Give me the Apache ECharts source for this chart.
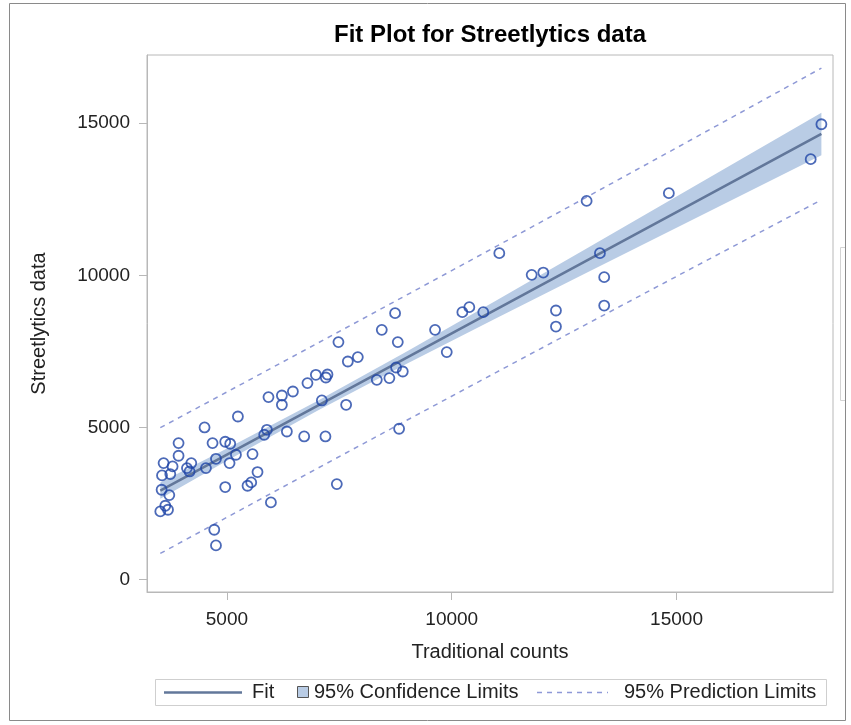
<!DOCTYPE html>
<html>
<head>
<meta charset="utf-8">
<script src="https://cdn.jsdelivr.net/npm/echarts@6/dist/echarts.min.js"></script>
<style>html,body{margin:0;padding:0;background:#fff;}#chart{width:851px;height:725px;}</style>
</head>
<body>
<div id="chart"></div>
<script>
// ---- data ----
const xTicks = [5000, 10000, 15000];
const yTicks = [0, 5000, 10000, 15000];

const tradCounts = [5924, 6222, 6467, 6791, 6222, 7111, 5244, 4502, 5889, 5829, 6333, 6718, 7191, 3924, 4680, 4962, 5073, 3924, 4756, 5200, 5569, 3591, 3791, 4207, 4111, 4169, 4533, 5058, 3556, 3740, 5680, 4962, 5458, 5540, 3547, 3718, 5978, 7444, 3629, 3518, 3689, 4718, 4756, 8740, 10236, 10391, 10702, 8444, 9629, 7480, 8800, 9889, 7689, 7911, 6978, 7200, 7236, 8333, 8613, 8762, 8911, 7651, 8829, 13000, 11058, 13296, 11778, 12036, 13391, 12318, 12318, 13391, 14829, 18222, 17984];
const streetData = [6001, 6054, 6185, 6461, 5748, 5890, 5364, 5003, 4927, 4763, 4871, 4707, 4707, 4490, 4490, 4533, 4467, 4073, 3974, 4106, 4129, 3833, 3722, 3833, 3669, 3557, 3669, 3833, 3426, 3472, 3538, 3045, 3088, 3196, 2956, 2782, 2539, 3143, 2431, 2243, 2299, 1642, 1127, 8760, 8793, 8957, 8793, 8212, 8212, 7808, 7808, 7479, 7171, 7315, 6734, 6645, 6744, 6569, 6625, 6973, 6842, 5748, 4960, 12449, 10731, 10731, 10018, 10094, 9943, 8846, 8320, 9010, 12702, 14968, 13819];

const curveX   = [3518, 5000, 7000, 9000, 11000, 13000, 15000, 18222];
const fitY     = [2929, 4110, 5704, 7298, 8892, 10486, 12080, 14648];
const ciLower  = [2664, 3909, 5544, 7097, 8601, 10088, 11569, 13948];
const ciUpper  = [3194, 4311, 5864, 7499, 9183, 10884, 12591, 15348];
const piLower  = [863, 2051, 3649, 5239, 6823, 8399, 9968, 12483];
const piUpper  = [4995, 6169, 7759, 9357, 10961, 12573, 14192, 16813];

// ---- styles ----
const FONT = '"Liberation Sans", Arial, sans-serif';
const bandColor = '#b9cce5';
const fitColor = '#62779a';
const pointColor = '#1f45a6';
const piColor = '#8e99d6';
const frameColor = '#b8b8b8';
const textColor = '#222';

const chart = echarts.init(document.getElementById('chart'), null, {renderer: 'canvas'});

const pts = tradCounts.map((x, i) => [x, streetData[i]]);
const pair = (ys) => curveX.map((x, i) => [x, ys[i]]);

const option = {
  animation: false,
  backgroundColor: '#fff',
  title: {
    text: 'Fit Plot for Streetlytics data',
    left: 485, top: 18, textAlign: 'center',
    textStyle: {fontFamily: FONT, fontSize: 24, fontWeight: 'bold', color: '#000'}
  },
  grid: {
    left: 147, right: 18, top: 55, bottom: 133,
    show: true, borderColor: frameColor, borderWidth: 1, backgroundColor: '#fff'
  },
  xAxis: {
    type: 'value', min: 3222, max: 18480,
    name: 'Traditional counts', nameLocation: 'middle', nameGap: 50,
    nameTextStyle: {fontFamily: FONT, fontSize: 20, color: textColor},
    axisLine: {show: true, onZero: false, lineStyle: {color: frameColor}},
    axisTick: {show: true, length: 8, customValues: xTicks, lineStyle: {color: frameColor}},
    axisLabel: {customValues: xTicks, margin: 18, fontFamily: FONT, fontSize: 19, color: textColor, formatter: v => String(v)},
    splitLine: {show: false}
  },
  yAxis: {
    type: 'value', min: -404, max: 17243,
    name: 'Streetlytics data', nameLocation: 'middle', nameGap: 98,
    nameTextStyle: {fontFamily: FONT, fontSize: 20, color: textColor},
    axisLine: {show: true, onZero: false, lineStyle: {color: frameColor}},
    axisTick: {show: true, length: 8, customValues: yTicks, lineStyle: {color: frameColor}},
    axisLabel: {customValues: yTicks, margin: 17, fontFamily: FONT, fontSize: 19, color: textColor, formatter: v => String(v)},
    splitLine: {show: false}
  },
  series: [
    {
      name: '95% Confidence Limits', type: 'custom', z: 1,
      data: curveX.map((x, i) => [x, ciLower[i], ciUpper[i]]),
      encode: {x: 0, y: [1, 2]},
      renderItem: function (params, api) {
        if (params.dataIndex !== 0) return null;
        const top = curveX.map((x, i) => api.coord([x, ciUpper[i]]));
        const bot = curveX.map((x, i) => api.coord([x, ciLower[i]])).reverse();
        return {type: 'polygon', shape: {points: top.concat(bot)}, style: {fill: bandColor}};
      }
    },
    {
      name: 'Fit', type: 'line', z: 3, data: pair(fitY), showSymbol: false,
      lineStyle: {color: fitColor, width: 2.6}
    },
    {
      name: '95% Prediction Limits', type: 'line', z: 3, data: pair(piUpper), showSymbol: false,
      lineStyle: {color: piColor, width: 1.5, type: [5, 5]}
    },
    {
      name: '95% Prediction Limits ', type: 'line', z: 3, data: pair(piLower), showSymbol: false,
      lineStyle: {color: piColor, width: 1.5, type: [5, 5]}
    },
    {
      name: 'Streetlytics data', type: 'scatter', z: 5, data: pts,
      symbol: 'circle', symbolSize: 10,
      itemStyle: {color: 'rgba(0,0,0,0)', borderColor: pointColor, borderWidth: 1.8}
    }
  ],
  graphic: [
    {type: 'rect', z: -1, silent: true, shape: {x: 9.5, y: 3.5, width: 836, height: 717},
      style: {fill: 'none', stroke: '#8a8a8a', lineWidth: 1}},
    {type: 'polyline', silent: true, shape: {points: [[845, 247.5], [840.5, 247.5], [840.5, 400.5], [845, 400.5]]},
      style: {fill: 'none', stroke: '#d4d4d4', lineWidth: 1}},
    {type: 'rect', silent: true, shape: {x: 155.5, y: 679.5, width: 671, height: 26},
      style: {fill: '#fff', stroke: '#cfcfcf', lineWidth: 1}},
    {type: 'line', silent: true, shape: {x1: 164, y1: 692.5, x2: 242, y2: 692.5},
      style: {stroke: fitColor, lineWidth: 2.6}},
    {type: 'text', silent: true, x: 252, y: 692.5,
      style: {text: 'Fit', fontFamily: FONT, fontSize: 20, fill: textColor, verticalAlign: 'middle'}},
    {type: 'rect', silent: true, shape: {x: 297.5, y: 686.5, width: 11, height: 11},
      style: {fill: bandColor, stroke: '#555', lineWidth: 1}},
    {type: 'text', silent: true, x: 314, y: 692.5,
      style: {text: '95% Confidence Limits', fontFamily: FONT, fontSize: 20, fill: textColor, verticalAlign: 'middle'}},
    {type: 'line', silent: true, shape: {x1: 537, y1: 692.5, x2: 608, y2: 692.5},
      style: {stroke: piColor, lineWidth: 1.5, lineDash: [5, 5]}},
    {type: 'text', silent: true, x: 624, y: 692.5,
      style: {text: '95% Prediction Limits', fontFamily: FONT, fontSize: 20, fill: textColor, verticalAlign: 'middle'}}
  ]
};
chart.setOption(option);
</script>
</body>
</html>
